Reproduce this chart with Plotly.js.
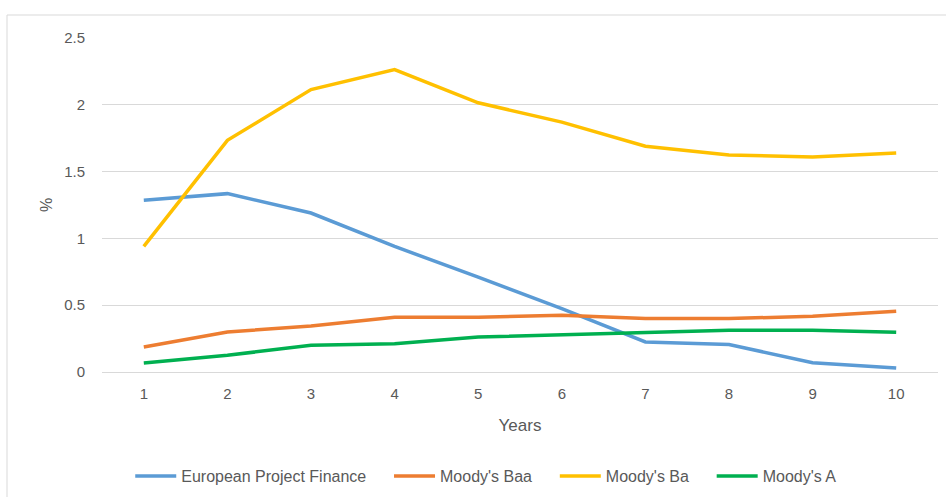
<!DOCTYPE html>
<html>
<head>
<meta charset="utf-8">
<script src="https://cdn.plot.ly/plotly-3.0.1.min.js"></script>
<style>
  html, body { margin: 0; padding: 0; background: #fff; }
  #chart { width: 946px; height: 497px; }
</style>
</head>
<body>
<div id="chart"></div>
<script>
const years = ['1', '2', '3', '4', '5', '6', '7', '8', '9', '10'];
const europeanPF = [1.285, 1.335, 1.19, 0.94, 0.71, 0.475, 0.225, 0.205, 0.07, 0.03];
const moodysBaa = [0.187, 0.30, 0.344, 0.41, 0.41, 0.424, 0.40, 0.40, 0.417, 0.454];
const moodysBa = [0.94, 1.734, 2.114, 2.263, 2.015, 1.87, 1.69, 1.625, 1.61, 1.64];
const moodysA = [0.067, 0.125, 0.20, 0.212, 0.262, 0.28, 0.292, 0.312, 0.312, 0.297];
const seriesNames = ['European Project Finance', "Moody's Baa", "Moody's Ba", "Moody's A"];
const seriesColors = ['#5B9BD5', '#ED7D31', '#FFC000', '#00B050'];
const seriesValues = [europeanPF, moodysBaa, moodysBa, moodysA];

const FONT = 'Liberation Sans, Arial, sans-serif';
const PAD = '\u00a0\u00a0\u00a0\u00a0';

const traces = seriesValues.map((vals, i) => ({
  type: 'scatter',
  mode: 'lines',
  x: years,
  y: vals,
  name: seriesNames[i] + (i < seriesValues.length - 1 ? PAD : ''),
  line: { color: seriesColors[i], width: 3.5 },
  hoverinfo: 'x+y+name'
}));

const layout = {
  width: 946,
  height: 497,
  margin: { l: 102, r: 8, t: 38, b: 125 },
  paper_bgcolor: '#ffffff',
  plot_bgcolor: '#ffffff',
  font: { family: FONT, size: 15, color: '#595959' },
  showlegend: true,
  legend: {
    orientation: 'h',
    xref: 'container', yref: 'container',
    x: 0.514, xanchor: 'center',
    y: 0.042, yanchor: 'middle',
    itemwidth: 41,
    font: { family: FONT, size: 16, color: '#595959' },
    bgcolor: 'rgba(0,0,0,0)'
  },
  xaxis: {
    type: 'category',
    range: [-0.5, 9.5],
    showgrid: false,
    showline: false,
    zeroline: false,
    ticks: '',
    ticklabelstandoff: 11,
    tickfont: { family: FONT, size: 15, color: '#595959' },
    title: { text: 'Years', font: { family: FONT, size: 17, color: '#595959' }, standoff: 18 },
    automargin: false
  },
  yaxis: {
    range: [0, 2.5],
    dtick: 0.5,
    showgrid: true,
    gridcolor: '#D9D9D9',
    gridwidth: 1,
    zeroline: true,
    zerolinecolor: '#D9D9D9',
    zerolinewidth: 1,
    showline: false,
    ticks: '',
    ticklabelstandoff: 16,
    tickfont: { family: FONT, size: 15, color: '#595959' },
    title: { text: '%', font: { family: FONT, size: 16, color: '#595959' }, standoff: 7 },
    automargin: false
  },
  shapes: [{
    type: 'rect',
    xref: 'paper', yref: 'paper',
    x0: (7 - 102) / 836, x1: 1.05,
    y0: -0.45, y1: (372 - 15) / 334,
    line: { color: '#D9D9D9', width: 1 },
    fillcolor: 'rgba(0,0,0,0)',
    layer: 'below'
  }]
};

Plotly.newPlot('chart', traces, layout, { displayModeBar: false });
</script>
</body>
</html>
